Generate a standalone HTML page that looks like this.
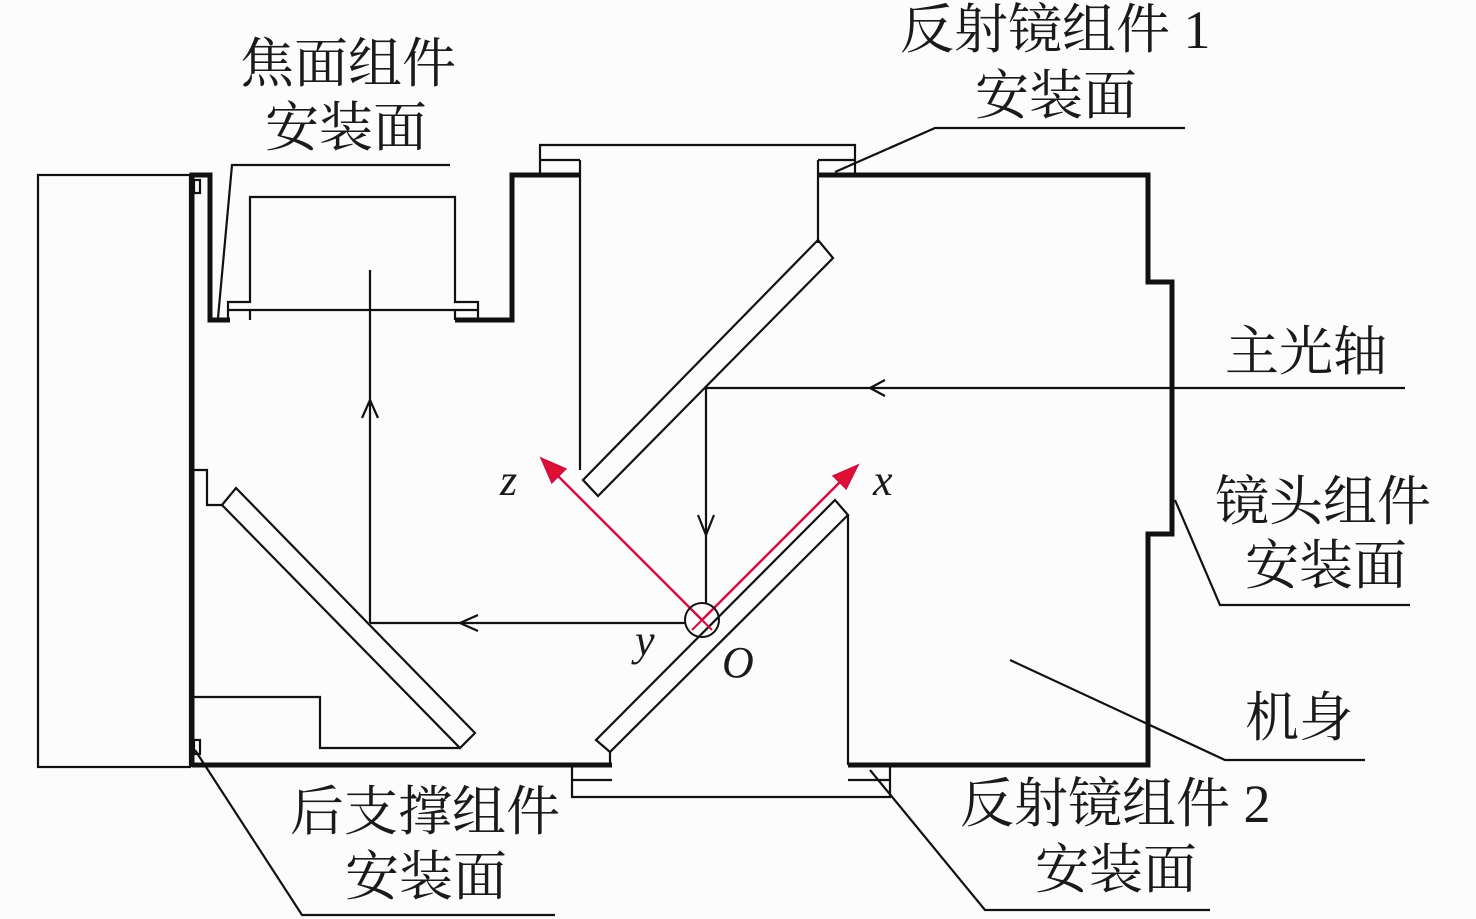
<!DOCTYPE html>
<html><head><meta charset="utf-8"><style>
html,body{margin:0;padding:0;background:#fff;}
svg{display:block;}
.t{font-family:"Liberation Serif","Noto Serif CJK SC",serif;font-size:54px;fill:#1a1a1a;}
.i{font-family:"Liberation Serif",serif;font-style:italic;font-size:44px;fill:#1a1a1a;}
</style></head><body>
<svg width="1476" height="919" viewBox="0 0 1476 919" xmlns="http://www.w3.org/2000/svg">
<rect width="1476" height="919" fill="#fcfcfc"/>
<g fill="none" stroke="#111" stroke-width="2.2">
<rect x="38" y="175" width="152" height="592"/>
<rect x="194" y="180" width="6" height="13"/>
<rect x="194" y="740" width="6" height="14"/>
<polyline points="228,320 228,302 250,302 250,197 455,197 455,302 478,302 478,318"/>
<line x1="228" y1="310" x2="478" y2="310"/>
<line x1="250" y1="310" x2="250" y2="320"/>
<line x1="455" y1="310" x2="455" y2="320"/>
<polyline points="540,175 540,145 855,145 855,175"/>
<line x1="540" y1="160" x2="580" y2="160"/>
<line x1="818" y1="160" x2="855" y2="160"/>
<line x1="580" y1="160" x2="580" y2="470"/>
<line x1="818" y1="160" x2="818" y2="243"/>
<polygon points="583,480 818,240 833,258 598,496"/>
<polygon points="596,740 835,500 848,515 610,752"/>
<line x1="610" y1="752" x2="610" y2="765"/>
<line x1="848" y1="515" x2="848" y2="765"/>
<polyline points="572,765 572,797 890,797 890,765"/>
<line x1="572" y1="780" x2="612" y2="780"/>
<line x1="848" y1="780" x2="890" y2="780"/>
<polyline points="193,470 207,470 207,505 222,505"/>
<polygon points="222,505 236,488 475,733 460,748"/>
<polyline points="193,697 320,697 320,748 460,748"/>
<line x1="1405" y1="388" x2="706" y2="388"/>
<polyline points="885,380 870,388 885,396"/>
<line x1="706" y1="388" x2="706" y2="603"/>
<polyline points="698,515 706,535 714,515"/>
<line x1="685" y1="623" x2="370" y2="623"/>
<polyline points="478,615 460,623 478,631"/>
<line x1="370" y1="623" x2="370" y2="270"/>
<polyline points="362,418 370,400 378,418"/>
<polyline points="218,318 232,165 450,165"/>
<polyline points="835,172 935,128 1185,128"/>
<polyline points="1175,500 1220,605 1410,605"/>
<polyline points="1010,660 1225,760 1365,760"/>
<polyline points="195,750 302,915 555,915"/>
<polyline points="870,770 985,910 1210,910"/>
</g>
<g fill="none" stroke="#111" stroke-width="5" stroke-linejoin="miter">
<polyline points="192,767 192,175 210,175 210,320 230,320"/>
<polyline points="455,320 512,320 512,175 580,175"/>
<polyline points="818,175 1148,175 1148,282 1172,282 1172,534 1148,534 1148,765 848,765"/>
<polyline points="192,765 612,765"/>
</g>
<g stroke="#d01040" stroke-width="2.5" fill="#e01030">
<line x1="702" y1="620" x2="552" y2="470"/>
<polygon points="542,459 565,469 552,482"/>
<line x1="702" y1="620" x2="846" y2="476"/>
<polygon points="857,466 846,488 834,476"/>
</g>
<circle cx="702" cy="620" r="17" fill="none" stroke="#111" stroke-width="2"/>
<line x1="692" y1="610" x2="712" y2="630" stroke="#d01040" stroke-width="2"/>
<line x1="712" y1="610" x2="692" y2="630" stroke="#d01040" stroke-width="2"/>
<text class="i" x="500" y="495">z</text>
<text class="i" x="873" y="495">x</text>
<text class="i" x="635" y="655">y</text>
<text class="i" x="722" y="677">O</text>
<text class="t" x="240" y="82">焦面组件</text>
<text class="t" x="265" y="146">安装面</text>
<text class="t" x="900" y="48">反射镜组件 1</text>
<text class="t" x="975" y="114">安装面</text>
<text class="t" x="1225" y="370">主光轴</text>
<text class="t" x="1215" y="520">镜头组件</text>
<text class="t" x="1245" y="584">安装面</text>
<text class="t" x="1245" y="736">机身</text>
<text class="t" x="290" y="830">后支撑组件</text>
<text class="t" x="345" y="895">安装面</text>
<text class="t" x="960" y="822">反射镜组件 2</text>
<text class="t" x="1035" y="888">安装面</text>
</svg>
</body></html>
